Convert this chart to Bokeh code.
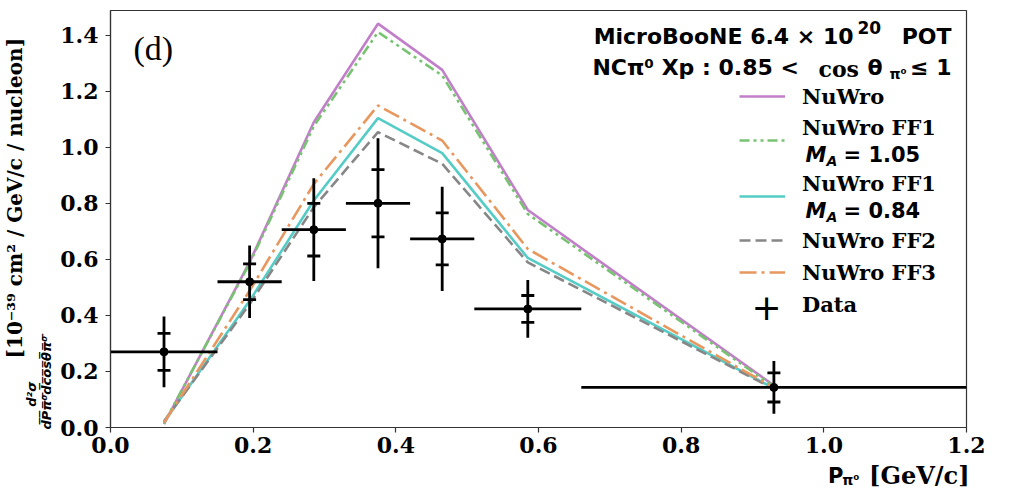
import math
from bokeh.plotting import figure
from bokeh.models import (ColumnDataSource, Label, Legend, LegendItem, Range1d,
                          FixedTicker, PrintfTickFormatter, Title)
from bokeh.embed import file_html
from bokeh.resources import INLINE

# ---------------- data ----------------
x_center = [0.075, 0.195, 0.285, 0.375, 0.465, 0.585, 0.93]
x_low = [0.0, 0.15, 0.24, 0.33, 0.42, 0.51, 0.66]
x_high = [0.15, 0.24, 0.33, 0.42, 0.51, 0.66, 1.2]
data_y = [0.270, 0.520, 0.706, 0.800, 0.673, 0.423, 0.143]
stat_err = [0.066, 0.064, 0.094, 0.120, 0.093, 0.048, 0.052]
total_err = [0.126, 0.129, 0.183, 0.232, 0.186, 0.103, 0.094]

nuwro = [0.012, 0.590, 1.089, 1.441, 1.276, 0.776, 0.150]
nuwro_ff1_105 = [0.015, 0.585, 1.075, 1.411, 1.256, 0.762, 0.145]
nuwro_ff1_084 = [0.020, 0.452, 0.810, 1.104, 0.979, 0.605, 0.140]
nuwro_ff2 = [0.022, 0.440, 0.786, 1.054, 0.941, 0.589, 0.138]
nuwro_ff3 = [0.018, 0.488, 0.869, 1.149, 1.024, 0.637, 0.142]

x_ticks = [0.0, 0.2, 0.4, 0.6, 0.8, 1.0, 1.2]
y_ticks = [0.0, 0.2, 0.4, 0.6, 0.8, 1.0, 1.2, 1.4]

# ---------------- layout ----------------
W, H = 1011, 490
L, R, T, B = 110, 45, 10, 63
XMAX, YMAX = 1.2, 1.488
FW, FH = W - L - R, H - T - B


def X(px):
    return (px - L) / FW * XMAX


def Y(py):
    return (T + FH - py) / FH * YMAX


p = figure(width=W, height=H, output_backend="svg", toolbar_location=None,
           x_range=Range1d(0, XMAX), y_range=Range1d(0, YMAX),
           min_border_left=L, min_border_right=R, min_border_top=T,
           min_border_bottom=B)
p.grid.visible = False
p.outline_line_color = "#333333"
p.outline_line_width = 1.2
for ax in (p.xaxis, p.yaxis):
    ax.axis_line_color = "#333333"
    ax.axis_line_width = 1.2
    ax.major_tick_line_color = "#333333"
    ax.major_tick_line_width = 1.2
    ax.major_tick_out = 5
    ax.major_tick_in = 0
    ax.minor_tick_line_color = None
    ax.major_label_text_font = "DejaVu Serif"
    ax.major_label_text_font_style = "bold"
    ax.major_label_text_font_size = "22px"
    ax.major_label_text_color = "black"
    ax.formatter = PrintfTickFormatter(format="%.1f")
p.xaxis.ticker = FixedTicker(ticks=x_ticks)
p.yaxis.ticker = FixedTicker(ticks=y_ticks)
p.xaxis.major_label_standoff = 4
p.yaxis.major_label_standoff = 7

LW = 2.6
r_nuwro = p.line(x_center, nuwro, line_color="#c27fc9", line_width=LW)
r_ff1a = p.line(x_center, nuwro_ff1_105, line_color="#78c372", line_width=LW,
                line_dash="10 4 3 4 3 4")
r_ff1b = p.line(x_center, nuwro_ff1_084, line_color="#55ccc5", line_width=LW)
r_ff2 = p.line(x_center, nuwro_ff2, line_color="#878787", line_width=LW,
               line_dash="11 5")
r_ff3 = p.line(x_center, nuwro_ff3, line_color="#e8975f", line_width=LW,
               line_dash="17 5 3 5")

src = ColumnDataSource(dict(
    x=x_center, xl=x_low, xh=x_high, y=data_y,
    tl=[a - b for a, b in zip(data_y, total_err)],
    th=[a + b for a, b in zip(data_y, total_err)],
    sl=[a - b for a, b in zip(data_y, stat_err)],
    sh=[a + b for a, b in zip(data_y, stat_err)],
))
p.segment(x0="xl", x1="xh", y0="y", y1="y", source=src, line_color="black",
          line_width=2.8)
p.segment(x0="x", x1="x", y0="tl", y1="th", source=src, line_color="black",
          line_width=2.8)
p.scatter(x="x", y="sl", source=src, marker="dash", size=13,
          line_color="black", line_width=2.8)
p.scatter(x="x", y="sh", source=src, marker="dash", size=13,
          line_color="black", line_width=2.8)
p.scatter(x="x", y="y", source=src, marker="circle", size=8,
          fill_color="black", line_color="black")
# invisible renderer that stands for the data in the legend
r_data = p.scatter(x="x", y="y", source=src, marker="cross", size=10,
                   line_color="black", line_alpha=0, fill_color=None)

NB = "\u00a0"
legend = Legend(items=[
    LegendItem(label="NuWro", renderers=[r_nuwro]),
    LegendItem(label="NuWro FF1\n" + NB, renderers=[r_ff1a]),
    LegendItem(label="NuWro FF1\n" + NB, renderers=[r_ff1b]),
    LegendItem(label="NuWro FF2", renderers=[r_ff2]),
    LegendItem(label="NuWro FF3", renderers=[r_ff3]),
    LegendItem(label="Data", renderers=[r_data]),
], location=(629, 110), border_line_color=None, background_fill_alpha=0,
    label_text_font="DejaVu Serif", label_text_font_style="bold",
    label_text_font_size="21px", label_text_color="black", glyph_width=46,
    glyph_height=26, label_standoff=17, spacing=6, padding=10, margin=0,
    label_height=26)
p.add_layout(legend)


def lab(text, px, py, size, font="DejaVu Sans", style="bold", align="left",
        angle=0.0, baseline="middle"):
    p.add_layout(Label(x=X(px), y=Y(py), text=text, text_font=font,
                       text_font_style=style, text_font_size=f"{size}px",
                       text_align=align, text_baseline=baseline, angle=angle,
                       text_color="black"))


# panel tag
lab("(d)", 133, 48, 34, font="Liberation Serif", style="normal")

# top-right annotation
lab("MicroBooNE 6.4 × 10", 853, 36, 22, align="right")
lab("20", 857, 27, 17)
lab("POT", 951, 36, 22, align="right")
lab("NCπ⁰ Xp :  0.85 <", 806, 67, 22, align="right")
lab("cos", 818, 68, 22, font="DejaVu Serif", style="bold")
lab("θ", 867, 67, 22)
lab("π⁰", 889, 73, 14)
lab("≤ 1", 951, 67, 22, align="right")

# M_A parts of the legend
for yy, val in ((154, "= 1.05"), (210, "= 0.84")):
    lab("M", 805, yy, 21, style="bold italic")
    lab("A", 826, yy + 6, 14, style="bold italic")
    lab(val, 843, yy, 21)
# data legend symbol
lab("+", 766, 306, 36, style="normal", align="center")


def title(text, side, size, font="DejaVu Sans", style="bold", align="left",
          offset=0, standoff=0, valign="bottom", color="black"):
    p.add_layout(Title(text=text, align=align, offset=offset,
                       standoff=standoff, text_font=font, vertical_align=valign,
                       text_font_style=style, text_font_size=f"{size}px",
                       text_color=color), side)


# y-axis label: fraction (two lines) next to the axis, then the unit
den = "".join(c + "\u0305" for c in "dPπ⁰dcosθπ⁰")
title(NB * 5 + "d²σ\n" + den, "left", 13, style="bold italic", offset=-2,
      standoff=4, valign="top")
title("[10⁻³⁹ cm² / GeV/c / nucleon]", "left", 20, font="DejaVu Serif",
      offset=69, standoff=-10)

# x-axis label: a blank spacer row, then zero-height rows sharing one line
title(NB, "below", 1, standoff=16, color="white")
title("[GeV/c]", "below", 24, font="DejaVu Serif", align="right", offset=-3,
      standoff=-31)
title("P", "below", 21, align="right", offset=123, standoff=-27)
title("π⁰", "below", 14, align="right", offset=107, standoff=-9)

open("out.html", "w").write(file_html(p, INLINE))
